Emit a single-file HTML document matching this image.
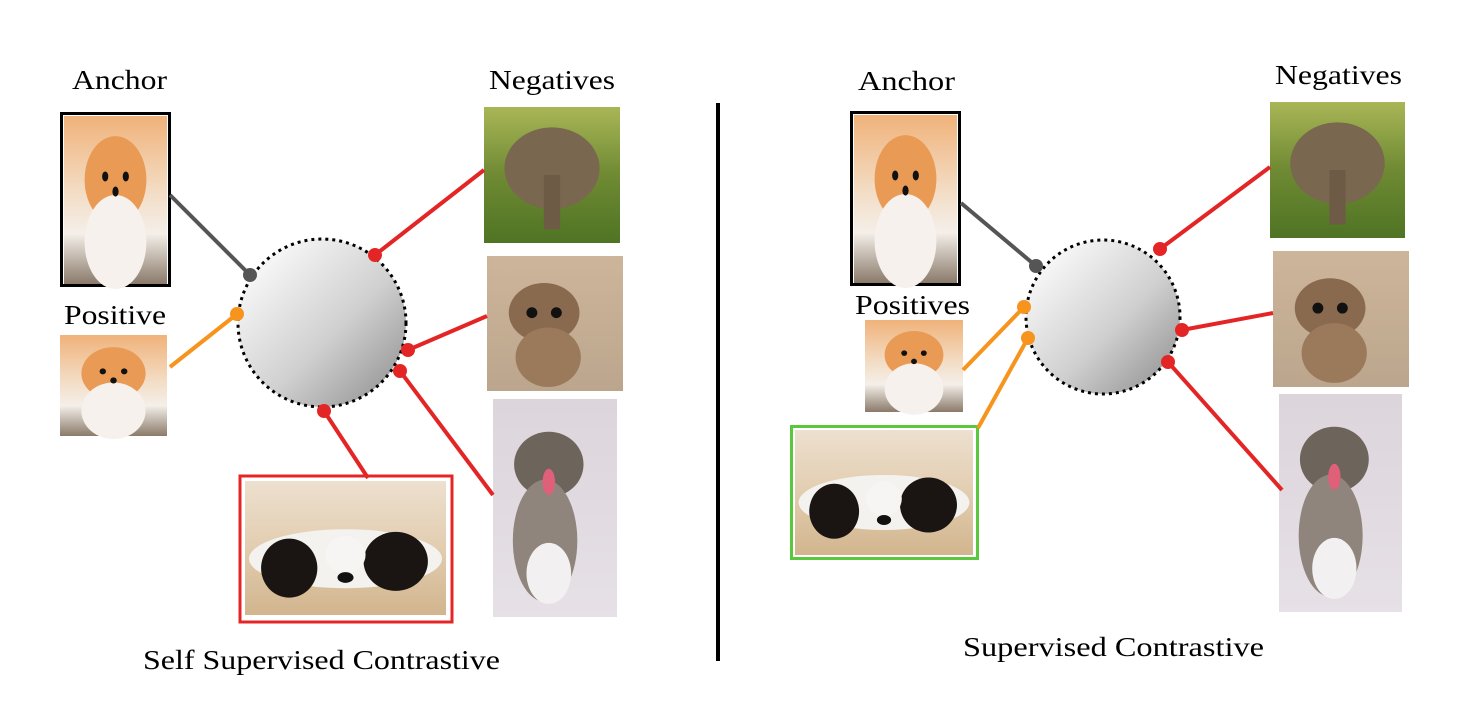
<!DOCTYPE html>
<html><head><meta charset="utf-8"><style>
html,body{margin:0;padding:0;background:#fff;}
svg text{font-family:"Liberation Serif",serif;fill:#000;}
</style></head><body>
<svg width="1480" height="702" viewBox="0 0 1480 702" xmlns="http://www.w3.org/2000/svg">
<defs>
<linearGradient id="sph" x1="0.15" y1="0.15" x2="0.9" y2="0.9">
<stop offset="0" stop-color="#f6f6f6"/><stop offset="0.55" stop-color="#d0d0d0"/><stop offset="1" stop-color="#9a9a9a"/></linearGradient>
<linearGradient id="pom" x1="0" y1="0" x2="0" y2="1">
<stop offset="0" stop-color="#f0b27a"/><stop offset="0.45" stop-color="#f3dcc4"/><stop offset="0.7" stop-color="#f4efe9"/><stop offset="1" stop-color="#8a7a6a"/></linearGradient>
<linearGradient id="ele" x1="0" y1="0" x2="0" y2="1">
<stop offset="0" stop-color="#a9b656"/><stop offset="0.5" stop-color="#6f8a33"/><stop offset="1" stop-color="#4f7424"/></linearGradient>
<linearGradient id="cat" x1="0" y1="0" x2="0" y2="1">
<stop offset="0" stop-color="#cdb59a"/><stop offset="1" stop-color="#bba68d"/></linearGradient>
<linearGradient id="kit" x1="0" y1="0" x2="0" y2="1">
<stop offset="0" stop-color="#dcd5dc"/><stop offset="1" stop-color="#e6e1e6"/></linearGradient>
<linearGradient id="spn" x1="0" y1="0" x2="0" y2="1">
<stop offset="0" stop-color="#ede0cf"/><stop offset="0.5" stop-color="#e2cdb0"/><stop offset="1" stop-color="#d2b58e"/></linearGradient>
<g id="pomg"><rect width="100" height="100" fill="url(#pom)"/><ellipse cx="50" cy="38" rx="30" ry="26" fill="#e99a55"/><ellipse cx="50" cy="75" rx="30" ry="28" fill="#f6f1ec"/><circle cx="40" cy="36" r="3" fill="#111"/><circle cx="60" cy="36" r="3" fill="#111"/><circle cx="50" cy="45" r="3" fill="#111"/></g>
<g id="eleg"><rect width="100" height="100" fill="url(#ele)"/><ellipse cx="50" cy="45" rx="35" ry="30" fill="#7a6750"/><rect x="44" y="50" width="12" height="40" fill="#6d5b45"/></g>
<g id="catg"><rect width="100" height="100" fill="url(#cat)"/><ellipse cx="42" cy="42" rx="26" ry="22" fill="#8a6a4e"/><ellipse cx="45" cy="75" rx="24" ry="22" fill="#9b7a5c"/><circle cx="33" cy="42" r="4" fill="#111"/><circle cx="51" cy="42" r="4" fill="#111"/></g>
<g id="kitg"><rect width="100" height="100" fill="url(#kit)"/><ellipse cx="45" cy="30" rx="28" ry="15" fill="#6d645c"/><ellipse cx="42" cy="65" rx="26" ry="28" fill="#8f857c"/><ellipse cx="45" cy="80" rx="18" ry="14" fill="#f2f0f0"/><ellipse cx="45" cy="38" rx="5" ry="6" fill="#e0607a"/></g>
<g id="spng"><rect width="100" height="100" fill="url(#spn)"/><ellipse cx="50" cy="58" rx="48" ry="22" fill="#f4f2ef"/><ellipse cx="22" cy="65" rx="14" ry="22" fill="#1a1512"/><ellipse cx="75" cy="60" rx="16" ry="22" fill="#1a1512"/><ellipse cx="50" cy="55" rx="10" ry="14" fill="#f7f5f3"/><circle cx="50" cy="72" r="4" fill="#111"/></g>
</defs>

<!-- LEFT -->
<text x="72" y="89" font-size="27" textLength="95" lengthAdjust="spacingAndGlyphs">Anchor</text>
<rect x="61.5" y="113.5" width="108" height="172" fill="none" stroke="#000" stroke-width="3"/>
<use href="#pomg" transform="translate(64,116) scale(1.03,1.68)"/>
<text x="64" y="324" font-size="27" textLength="102" lengthAdjust="spacingAndGlyphs">Positive</text>
<use href="#pomg" transform="translate(60,335) scale(1.07,1.01)"/>
<text x="489" y="89" font-size="27" textLength="126" lengthAdjust="spacingAndGlyphs">Negatives</text>
<use href="#eleg" transform="translate(484,107) scale(1.36,1.36)"/>
<use href="#catg" transform="translate(487,256) scale(1.36,1.35)"/>
<use href="#kitg" transform="translate(493,399) scale(1.24,2.18)"/>
<rect x="240" y="476" width="212" height="146" fill="none" stroke="#e42525" stroke-width="3"/>
<use href="#spng" transform="translate(245,481) scale(2.01,1.34)"/>

<line x1="170" y1="195" x2="250" y2="275" stroke="#555" stroke-width="4"/>
<line x1="170" y1="367" x2="237" y2="314" stroke="#f7941d" stroke-width="4"/>
<line x1="484" y1="170" x2="375" y2="255" stroke="#e42525" stroke-width="4"/>
<line x1="487" y1="316" x2="408" y2="350" stroke="#e42525" stroke-width="4"/>
<line x1="493" y1="495" x2="400" y2="371" stroke="#e42525" stroke-width="4"/>
<line x1="368" y1="478" x2="324" y2="411" stroke="#e42525" stroke-width="4"/>
<circle cx="322" cy="323" r="84" fill="url(#sph)" stroke="#000" stroke-width="3" stroke-dasharray="3,4"/>
<circle cx="250" cy="275" r="7" fill="#555"/>
<circle cx="237" cy="314" r="7" fill="#f7941d"/>
<circle cx="375" cy="255" r="7" fill="#e42525"/>
<circle cx="408" cy="350" r="7" fill="#e42525"/>
<circle cx="400" cy="371" r="7" fill="#e42525"/>
<circle cx="324" cy="411" r="7" fill="#e42525"/>
<text x="143" y="669" font-size="27" textLength="357" lengthAdjust="spacingAndGlyphs">Self Supervised Contrastive</text>

<line x1="718" y1="103" x2="718" y2="661" stroke="#000" stroke-width="4"/>

<!-- RIGHT -->
<text x="858" y="90" font-size="27" textLength="97" lengthAdjust="spacingAndGlyphs">Anchor</text>
<rect x="851.5" y="112.5" width="108" height="172" fill="none" stroke="#000" stroke-width="3"/>
<use href="#pomg" transform="translate(854,115) scale(1.03,1.68)"/>
<text x="855" y="314" font-size="27" textLength="115" lengthAdjust="spacingAndGlyphs">Positives</text>
<use href="#pomg" transform="translate(865,320) scale(0.98,0.92)"/>
<rect x="791.5" y="426.5" width="186" height="132" fill="none" stroke="#5ac83c" stroke-width="3"/>
<use href="#spng" transform="translate(795,430) scale(1.78,1.25)"/>
<text x="1275" y="84" font-size="27" textLength="127" lengthAdjust="spacingAndGlyphs">Negatives</text>
<use href="#eleg" transform="translate(1270,102) scale(1.35,1.36)"/>
<use href="#catg" transform="translate(1273,251) scale(1.36,1.36)"/>
<use href="#kitg" transform="translate(1279,394) scale(1.23,2.18)"/>

<line x1="961" y1="203" x2="1036" y2="266" stroke="#555" stroke-width="4"/>
<line x1="963" y1="370" x2="1024" y2="307" stroke="#f7941d" stroke-width="4"/>
<line x1="978" y1="428" x2="1028" y2="338" stroke="#f7941d" stroke-width="4"/>
<line x1="1270" y1="167" x2="1160" y2="249" stroke="#e42525" stroke-width="4"/>
<line x1="1273" y1="313" x2="1182" y2="330" stroke="#e42525" stroke-width="4"/>
<line x1="1282" y1="490" x2="1168" y2="362" stroke="#e42525" stroke-width="4"/>
<circle cx="1103" cy="317" r="77" fill="url(#sph)" stroke="#000" stroke-width="3" stroke-dasharray="3,4"/>
<circle cx="1036" cy="266" r="7" fill="#555"/>
<circle cx="1024" cy="307" r="7" fill="#f7941d"/>
<circle cx="1028" cy="338" r="7" fill="#f7941d"/>
<circle cx="1160" cy="249" r="7" fill="#e42525"/>
<circle cx="1182" cy="330" r="7" fill="#e42525"/>
<circle cx="1168" cy="362" r="7" fill="#e42525"/>
<text x="963" y="656" font-size="27" textLength="301" lengthAdjust="spacingAndGlyphs">Supervised Contrastive</text>
</svg>
</body></html>
